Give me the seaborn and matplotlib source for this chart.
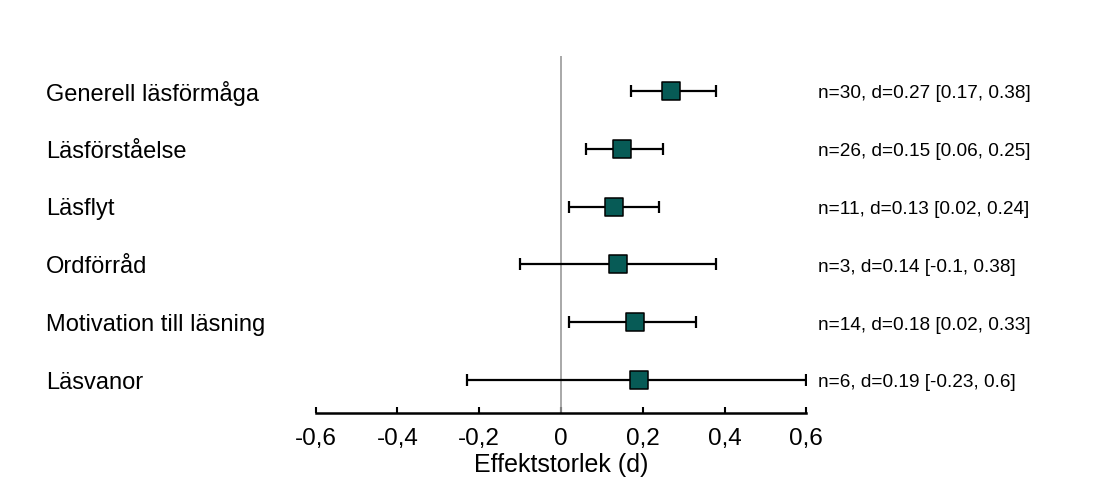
import matplotlib
matplotlib.use('Agg')
import matplotlib.pyplot as plt
import matplotlib.transforms as mtransforms
import seaborn as sns
import pandas as pd

# Effect sizes per outcome
outcomes = ['Generell läsförmåga', 'Läsförståelse', 'Läsflyt', 'Ordförråd',
            'Motivation till läsning', 'Läsvanor']
n_studies = [30, 26, 11, 3, 14, 6]
d_values = [0.27, 0.15, 0.13, 0.14, 0.18, 0.19]
ci_low = [0.17, 0.06, 0.02, -0.1, 0.02, -0.23]
ci_high = [0.38, 0.25, 0.24, 0.38, 0.33, 0.6]
x_ticks = [-0.6, -0.4, -0.2, 0, 0.2, 0.4, 0.6]
x_ticklabels = ['-0,6', '-0,4', '-0,2', '0', '0,2', '0,4', '0,6']

df = pd.DataFrame({'outcome': outcomes, 'n': n_studies, 'd': d_values,
                   'lo': ci_low, 'hi': ci_high})
df['pos'] = range(len(df))

sns.set_style('white')
plt.rcParams['font.family'] = ['Liberation Sans', 'DejaVu Sans']
plt.rcParams['text.color'] = 'black'
plt.rcParams['axes.labelcolor'] = 'black'
plt.rcParams['xtick.color'] = 'black'

fig = plt.figure(figsize=(11, 4.89), dpi=100)
ax = fig.add_axes([0.287, 0.153, 0.446, 0.730])

teal = '#075b56'

# zero reference line
ax.axvline(0, color='#999999', lw=1.2, zorder=1)

ax.errorbar(df['d'], df['pos'],
            xerr=[df['d'] - df['lo'], df['hi'] - df['d']],
            fmt='none', ecolor='black', elinewidth=1.6, capsize=4,
            capthick=1.6, zorder=2)
sns.scatterplot(data=df, x='d', y='pos', marker='s', s=170, color=teal,
                edgecolor='black', linewidth=1.1, ax=ax, zorder=3, legend=False)

ax.set_xlim(-0.6, 0.6)
ax.set_ylim(5.57, -0.6)
ax.set_xticks(x_ticks)
ax.set_xticklabels(x_ticklabels, fontsize=17.5)
ax.set_yticks([])
ax.set_ylabel('')
ax.set_xlabel('Effektstorlek (d)', fontsize=18, labelpad=2)
ax.tick_params(axis='x', direction='in', length=4, width=1.5, pad=10, bottom=True)

for side in ['top', 'right', 'left']:
    ax.spines[side].set_visible(False)
ax.spines['bottom'].set_linewidth(1.8)
ax.spines['bottom'].set_color('black')

trans = mtransforms.blended_transform_factory(fig.transFigure, ax.transData)
for _, row in df.iterrows():
    ax.text(46 / 1100, row['pos'] + 0.03, row['outcome'], transform=trans,
            ha='left', va='center', fontsize=17, clip_on=False)
    label = f"n={row['n']}, d={row['d']:g} [{row['lo']:g}, {row['hi']:g}]"
    ax.text(818 / 1100, row['pos'] + 0.03, label, transform=trans,
            ha='left', va='center', fontsize=13.7, clip_on=False)

plt.savefig('out.png', dpi=100)
